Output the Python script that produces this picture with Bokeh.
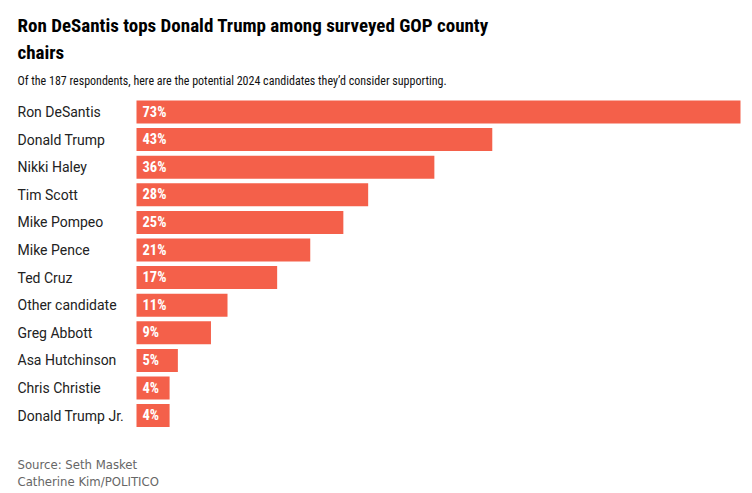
from bokeh.plotting import figure
from bokeh.models import Range1d, Label, ColumnDataSource
from bokeh.embed import file_html
from bokeh.resources import INLINE
from bokeh.core.properties import value

candidates = ["Ron DeSantis", "Donald Trump", "Nikki Haley", "Tim Scott", "Mike Pompeo",
              "Mike Pence", "Ted Cruz", "Other candidate", "Greg Abbott", "Asa Hutchinson",
              "Chris Christie", "Donald Trump Jr."]
shares = [73, 43, 36, 28, 25, 21, 17, 11, 9, 5, 4, 4]
share_labels = [f"{v}%" for v in shares]

title_lines = ["Ron DeSantis tops Donald Trump among surveyed GOP county", "chairs"]
subtitle = "Of the 187 respondents, here are the potential 2024 candidates they\u2019d consider supporting."
notes = ["Source: Seth Masket", "Catherine Kim/POLITICO"]

BAR = "#f4604a"
COND = "Roboto Condensed"
LABEL_FONT = "Roboto"
NOTE_FONT = "DejaVu Sans Condensed"

W, H = 752, 493
# horizontal layout (pixels)
bar_left_px, bar_right_px = 136, 740
px_per = (bar_right_px - bar_left_px) / max(shares)
x_start = -bar_left_px / px_per
x_end = (W - bar_left_px) / px_per
# vertical layout: row index -> y = -index
first_row_px, pitch = 111.5, 27.6
y_top = first_row_px / pitch
y_bottom = -(H - first_row_px) / pitch

rows = [-i for i in range(len(candidates))]
src = ColumnDataSource(dict(cand=candidates, share=shares, lab=share_labels, row=rows))

p = figure(width=W, height=H,
           y_range=Range1d(y_bottom, y_top),
           x_range=Range1d(x_start, x_end),
           output_backend="svg", toolbar_location=None,
           x_axis_location=None, y_axis_location=None,
           min_border=0)
p.grid.visible = False
p.outline_line_color = None
p.background_fill_color = "white"
p.border_fill_color = "white"

p.hbar(y="row", left=0, right="share", height=23 / pitch, source=src,
       fill_color=BAR, line_color=None)

p.text(x=x_start, y="row", text="cand", source=src, x_offset=17,
       text_align="left", text_baseline="middle", text_font=value(LABEL_FONT),
       text_font_size="14px", text_color="#222222")

p.text(x=0, y="row", text="lab", source=src, x_offset=6,
       text_align="left", text_baseline="middle", text_font=value(COND),
       text_font_size="14.5px", text_font_style="bold", text_color="white")

def add_label(txt, baseline_px, size, font, style="normal", color="#111111"):
    p.add_layout(Label(x=17, y=H - baseline_px, x_units="screen", y_units="screen",
                       text=txt, text_font=font, text_font_size=size,
                       text_font_style=style, text_color=color,
                       text_baseline="alphabetic", text_align="left"))

add_label(title_lines[0], 25, "19px", COND, "bold", color="#000000")
add_label(title_lines[1], 52, "19px", COND, "bold", color="#000000")
add_label(subtitle, 80, "12px", COND, color="#111111")
add_label(notes[0], 464, "13px", NOTE_FONT, color="#666666")
add_label(notes[1], 481, "13px", NOTE_FONT, color="#666666")

open("out.html", "w").write(file_html(p, INLINE))
